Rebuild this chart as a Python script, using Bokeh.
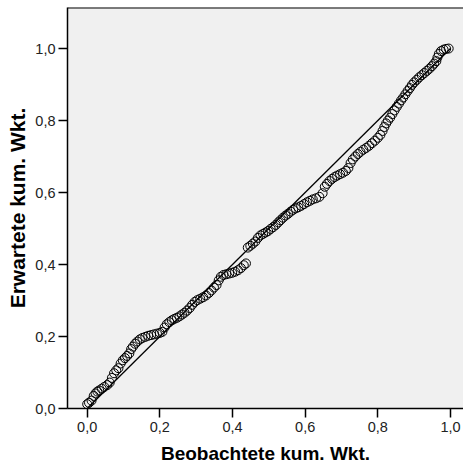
from bokeh.plotting import figure
from bokeh.models import FixedTicker, CustomJSTickFormatter, Range1d, Span
from bokeh.embed import file_html
from bokeh.resources import INLINE

# Observed vs. expected cumulative probabilities (P-P plot)
observed = [
    0.000, 0.005, 0.012, 0.018, 0.023, 0.028, 0.033, 0.040, 0.047, 0.055,
    0.062, 0.068, 0.074, 0.080, 0.086, 0.092, 0.098, 0.104, 0.110, 0.116,
    0.121, 0.126, 0.132, 0.138, 0.145, 0.152, 0.160, 0.168, 0.176, 0.184,
    0.192, 0.200, 0.207, 0.213, 0.219, 0.226, 0.233, 0.240, 0.247, 0.254,
    0.261, 0.268, 0.275, 0.282, 0.289, 0.296, 0.303, 0.311, 0.319, 0.327,
    0.335, 0.342, 0.349, 0.356, 0.362, 0.368, 0.375, 0.383, 0.391, 0.399,
    0.407, 0.415, 0.423, 0.431, 0.437, 0.442, 0.449, 0.456, 0.463, 0.470,
    0.477, 0.484, 0.491, 0.498, 0.505, 0.512, 0.519, 0.526, 0.532, 0.539,
    0.546, 0.553, 0.560, 0.567, 0.574, 0.581, 0.589, 0.597, 0.605, 0.613,
    0.621, 0.630, 0.639, 0.648, 0.654, 0.660, 0.667, 0.674, 0.681, 0.688,
    0.696, 0.704, 0.712, 0.719, 0.725, 0.731, 0.738, 0.745, 0.752, 0.760,
    0.768, 0.776, 0.784, 0.792, 0.800, 0.807, 0.813, 0.818, 0.823, 0.828,
    0.834, 0.840, 0.846, 0.852, 0.858, 0.864, 0.870, 0.876, 0.882, 0.888,
    0.894, 0.900, 0.907, 0.914, 0.921, 0.928, 0.935, 0.942, 0.949, 0.955,
    0.961, 0.964, 0.968, 0.974, 0.981, 0.988, 0.995,
]
expected = [
    0.012, 0.016, 0.022, 0.035, 0.042, 0.047, 0.050, 0.055, 0.060, 0.065,
    0.072, 0.085, 0.098, 0.106, 0.112, 0.125, 0.134, 0.140, 0.146, 0.153,
    0.165, 0.172, 0.180, 0.186, 0.192, 0.196, 0.199, 0.202, 0.204, 0.206,
    0.208, 0.210, 0.213, 0.225, 0.234, 0.240, 0.245, 0.249, 0.252, 0.256,
    0.261, 0.266, 0.272, 0.279, 0.288, 0.296, 0.301, 0.305, 0.309, 0.314,
    0.321, 0.328, 0.336, 0.343, 0.356, 0.366, 0.371, 0.373, 0.375, 0.377,
    0.380, 0.384, 0.390, 0.398, 0.403, 0.447, 0.452, 0.458, 0.464, 0.474,
    0.481, 0.485, 0.489, 0.493, 0.499, 0.504, 0.510, 0.517, 0.523, 0.530,
    0.536, 0.541, 0.547, 0.552, 0.556, 0.559, 0.563, 0.568, 0.573, 0.577,
    0.581, 0.584, 0.588, 0.598, 0.616, 0.624, 0.632, 0.638, 0.643, 0.647,
    0.651, 0.655, 0.660, 0.668, 0.682, 0.692, 0.700, 0.707, 0.713, 0.719,
    0.724, 0.730, 0.737, 0.744, 0.752, 0.760, 0.771, 0.782, 0.792, 0.800,
    0.808, 0.818, 0.828, 0.838, 0.847, 0.856, 0.864, 0.873, 0.882, 0.890,
    0.899, 0.906, 0.913, 0.920, 0.926, 0.932, 0.938, 0.944, 0.951, 0.958,
    0.965, 0.975, 0.985, 0.993, 0.997, 0.999, 1.000,
]

# Diagonal reference line (perfect fit)
diag_x = [0.0, 1.0]
diag_y = [0.0, 1.0]

tick_values = [0.0, 0.2, 0.4, 0.6, 0.8, 1.0]
x_label = "Beobachtete kum. Wkt."
y_label = "Erwartete kum. Wkt."

FONT = "Liberation Sans"
BG = "#f0f0f0"
Y_TOP = 1.114

p = figure(
    width=463, height=466,
    output_backend="svg", toolbar_location=None,
    x_range=Range1d(-0.0542, 1.0358), y_range=Range1d(0.0, Y_TOP),
    min_border_left=67, min_border_right=0,
    min_border_top=7, min_border_bottom=58,
)
p.background_fill_color = BG
p.border_fill_color = "white"
p.outline_line_color = None
p.xgrid.visible = False
p.ygrid.visible = False

# top edge of the plot frame (left/bottom edges come from the axes)
p.add_layout(Span(location=Y_TOP, dimension="width",
                  line_color="black", line_width=2))

fmt = CustomJSTickFormatter(code="return tick.toFixed(1).replace('.', ',');")
for ax, lab in ((p.xaxis[0], x_label), (p.yaxis[0], y_label)):
    ax.ticker = FixedTicker(ticks=tick_values)
    ax.formatter = fmt
    ax.axis_label = lab
    ax.axis_label_text_font = FONT
    ax.axis_label_text_font_style = "bold"
    ax.axis_label_text_color = "black"
    ax.major_label_text_font = FONT
    ax.major_label_text_font_size = "14.5px"
    ax.major_label_text_color = "#222222"
    ax.axis_line_color = "black"
    ax.axis_line_width = 1.5
    ax.major_tick_line_color = "black"
    ax.major_tick_line_width = 1.5
    ax.major_tick_out = 9
    ax.major_tick_in = 0
    ax.minor_tick_line_color = None

p.xaxis[0].axis_label_text_font_size = "19px"
p.yaxis[0].axis_label_text_font_size = "21px"
p.xaxis[0].major_label_standoff = 4
p.xaxis[0].axis_label_standoff = 8
p.yaxis[0].major_label_standoff = 3
p.yaxis[0].axis_label_standoff = 3

p.line(diag_x, diag_y, line_color="black", line_width=1.3)
p.scatter(observed, expected, marker="circle", size=9,
          fill_color=None, line_color="black", line_width=1)

open("out.html", "w").write(file_html(p, INLINE))
